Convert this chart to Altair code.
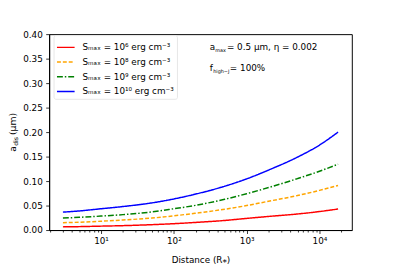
import altair as alt
import pandas as pd

# ---- data ----
distance = [3, 5, 10, 20, 50, 100, 200, 500, 1000, 2000, 5000, 10000, 18000]
s6  = [0.0065, 0.0070, 0.0080, 0.0090, 0.0110, 0.0130, 0.0156, 0.0196, 0.0238, 0.0278, 0.0328, 0.0378, 0.0430]
s8  = [0.0150, 0.0160, 0.0180, 0.0205, 0.0245, 0.0290, 0.0345, 0.0425, 0.0500, 0.0588, 0.0705, 0.0810, 0.0910]
s9  = [0.0245, 0.0260, 0.0285, 0.0315, 0.0370, 0.0435, 0.0505, 0.0628, 0.0742, 0.0868, 0.1051, 0.1201, 0.1344]
s10 = [0.0366, 0.0390, 0.0435, 0.0480, 0.0555, 0.0635, 0.0735, 0.0895, 0.1045, 0.1225, 0.1490, 0.1735, 0.2000]

labels = ["Sₘₐₓ = 10⁶ erg cm⁻³", "Sₘₐₓ = 10⁸ erg cm⁻³",
          "Sₘₐₓ = 10⁹ erg cm⁻³", "Sₘₐₓ = 10¹⁰ erg cm⁻³"]
colors = ["#ff0000", "#ffa500", "#008000", "#0000ff"]
dashes = [[1, 0], [4, 2], [6, 2, 1.5, 2], [1, 0]]

y_ticks = [0.0, 0.05, 0.10, 0.15, 0.20, 0.25, 0.30, 0.35, 0.40]
x_ticks = [m * 10 ** k for k in range(0, 5) for m in range(1, 10)]
x_ticks = [v for v in x_ticks if 1.94 <= v <= 27800]

rows = []
for lab, ser in zip(labels, [s6, s8, s9, s10]):
    for d, v in zip(distance, ser):
        rows.append({"distance": d, "adis": v, "label": lab})
df = pd.DataFrame(rows)

FONT = "DejaVu Sans"
leg = alt.Legend(title=None, orient="none", legendX=4.5, legendY=1)

lines = alt.Chart(df).mark_line(strokeWidth=1.5, interpolate="monotone", clip=True).encode(
    x=alt.X("distance:Q",
            scale=alt.Scale(type="log", domain=[1.94, 27800], nice=False),
            axis=alt.Axis(values=x_ticks, title="Distance (R⁎)",
                          labelExpr="datum.value == 10 ? '10¹' : datum.value == 100 ? '10²' : datum.value == 1000 ? '10³' : datum.value == 10000 ? '10⁴' : ''",
                          tickSize={"condition": {"test": "indexof([10,100,1000,10000], datum.value) >= 0", "value": 3.5}, "value": 2},
                          labelPadding=3.5, titlePadding=10, labelFlush=False)),
    y=alt.Y("adis:Q",
            scale=alt.Scale(domain=[0, 0.4], nice=False),
            axis=alt.Axis(values=y_ticks, format=".2f", title=None,
                          tickSize=3.5, labelPadding=3.5)),
    color=alt.Color("label:N", scale=alt.Scale(domain=labels, range=colors), legend=leg),
    strokeDash=alt.StrokeDash("label:N", scale=alt.Scale(domain=labels, range=dashes), legend=leg),
)

one = pd.DataFrame({"k": [0]})

def txt(s, x, y, size=9, angle=0, baseline="alphabetic"):
    return alt.Chart(one).mark_text(text=s, font=FONT, fontSize=size, align="left",
                                    baseline=baseline, angle=angle, color="black").encode(
        x=alt.value(x), y=alt.value(y))

ann = [
    # y-axis title a_dis (μm)
    txt("a", -34, 120, 9.5, 270),
    txt("dis", -32, 114, 6.3, 270),
    txt("(μm)", -34, 103, 9.5, 270),
    # annotation lines
    txt("a", 164, 16.3, 9),
    txt("max", 169.5, 18.3, 5),
    txt("= 0.5 μm, η = 0.002", 181.5, 16.3, 9),
    txt("f", 164, 38, 9),
    txt("high−J", 167.5, 40, 5),
    txt("= 100%", 184.5, 38, 9),
]

chart = alt.layer(lines, *ann).properties(
    width=309, height=200,
    autosize=alt.AutoSizeParams(type="none"),
    padding={"left": 42, "top": 24, "right": 40, "bottom": 34},
).configure_view(stroke="black", strokeWidth=1).configure_axis(
    labelFont=FONT, titleFont=FONT, labelFontSize=9, titleFontSize=9,
    titleFontWeight="normal", labelColor="black", titleColor="black",
    domainColor="black", tickColor="black", domainWidth=1, tickWidth=0.8, grid=False,
).configure_legend(
    labelFont=FONT, labelFontSize=9, labelColor="black",
    symbolType="stroke", symbolSize=324, symbolStrokeWidth=1.5,
    labelOffset=7, padding=2.5, rowPadding=-1.8,
    strokeColor="#e6e6e6", fillColor="white", cornerRadius=2,
)

chart.save("out.html", embed_options={"renderer": "svg", "actions": False})
